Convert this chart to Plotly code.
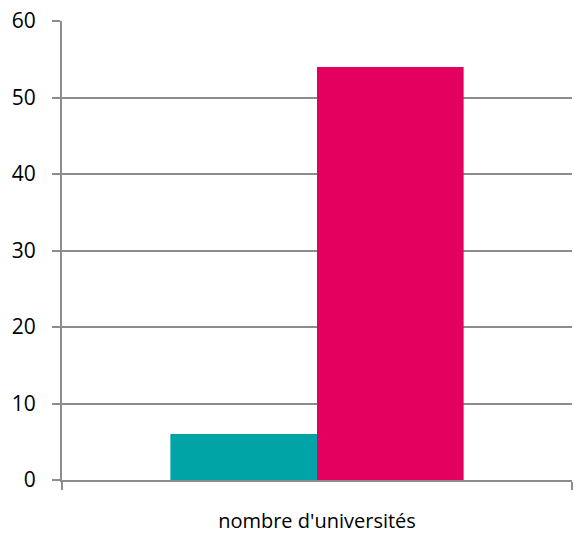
import plotly.graph_objects as go

categories = ["nombre d'universités"]
series_a = [6]
series_b = [54]
y_ticks = [0, 10, 20, 30, 40, 50, 60]

fig = go.Figure()
fig.add_trace(go.Bar(x=categories, y=series_a, marker=dict(color="#00A4A6", line=dict(width=0)), showlegend=False))
fig.add_trace(go.Bar(x=categories, y=series_b, marker=dict(color="#E3005F", line=dict(width=0)), showlegend=False))

fig.update_layout(
    width=575, height=535,
    margin=dict(l=62, r=3, t=21, b=55),
    barmode="group", bargap=0.425, bargroupgap=0,
    plot_bgcolor="white", paper_bgcolor="white",
    font=dict(family="Open Sans, Liberation Sans, sans-serif", color="#000000"),
)
fig.update_yaxes(
    range=[0, 60], tickvals=y_ticks, showgrid=True, gridcolor="#8c8c8c", gridwidth=2,
    showline=True, linecolor="#8c8c8c", linewidth=2,
    ticks="outside", ticklen=8, tickcolor="#8c8c8c", tickwidth=2,
    tickfont=dict(size=21), ticklabelstandoff=12, zeroline=False, automargin=False,
)
fig.update_xaxes(
    showline=True, linecolor="#8c8c8c", linewidth=2,
    ticks="outside", tickson="boundaries", ticklen=8, tickcolor="#8c8c8c", tickwidth=2,
    tickfont=dict(size=20), ticklabelstandoff=22, automargin=False,
)
fig.write_html(
    "out.html",
    config={"displayModeBar": False},
    post_script="document.body.style.margin='0';document.body.style.overflow='hidden';",
)
